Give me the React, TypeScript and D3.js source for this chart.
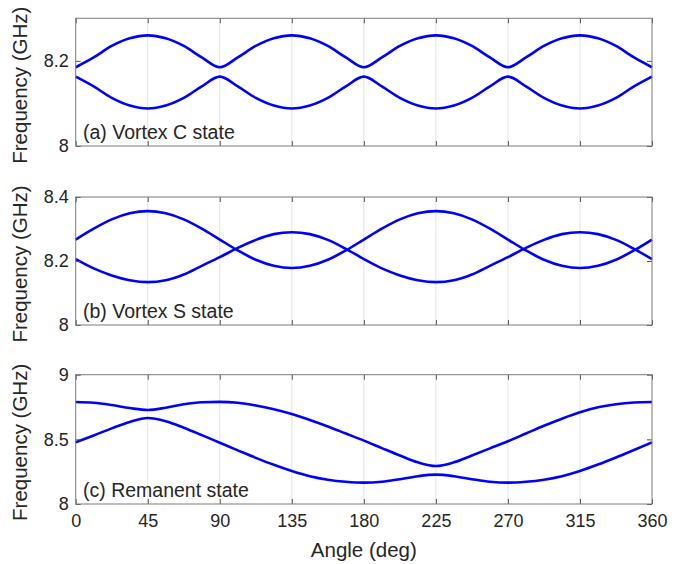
import React, { useRef, useEffect } from "react";
import { select, scaleLinear, line, curveMonotoneX, axisBottom, axisTop, axisLeft, axisRight } from "d3";

// angle samples (deg), every 11.25 deg
const angles = [
  0, 11.25, 22.5, 33.75, 45, 56.25, 67.5, 78.75, 90, 101.25, 112.5, 123.75, 135,
  146.25, 157.5, 168.75, 180, 191.25, 202.5, 213.75, 225, 236.25, 247.5, 258.75,
  270, 281.25, 292.5, 303.75, 315, 326.25, 337.5, 348.75, 360,
];

// (a) vortex C state
const vortexCUpper = [
  8.185, 8.208, 8.235, 8.253, 8.26, 8.253, 8.235, 8.208,
  8.185, 8.208, 8.235, 8.253, 8.26, 8.253, 8.235, 8.208,
  8.185, 8.208, 8.235, 8.253, 8.26, 8.253, 8.235, 8.208,
  8.185, 8.208, 8.235, 8.253, 8.26, 8.253, 8.235, 8.208, 8.185,
];
const vortexCLower = [
  8.163, 8.14, 8.113, 8.095, 8.088, 8.095, 8.113, 8.14,
  8.163, 8.14, 8.113, 8.095, 8.088, 8.095, 8.113, 8.14,
  8.163, 8.14, 8.113, 8.095, 8.088, 8.095, 8.113, 8.14,
  8.163, 8.14, 8.113, 8.095, 8.088, 8.095, 8.113, 8.14, 8.163,
];

// (b) vortex S state
const vortexSA = [
  8.267, 8.301, 8.33, 8.349, 8.356, 8.349, 8.33, 8.301,
  8.267, 8.233, 8.204, 8.185, 8.178, 8.185, 8.204, 8.233,
  8.267, 8.301, 8.33, 8.349, 8.356, 8.349, 8.33, 8.301,
  8.267, 8.233, 8.204, 8.185, 8.178, 8.185, 8.204, 8.233, 8.267,
];
const vortexSB = [
  8.206, 8.177, 8.155, 8.14, 8.134, 8.14, 8.158, 8.185,
  8.212, 8.241, 8.266, 8.284, 8.29, 8.284, 8.266, 8.238,
  8.206, 8.177, 8.155, 8.14, 8.134, 8.14, 8.158, 8.185,
  8.212, 8.241, 8.266, 8.284, 8.29, 8.284, 8.266, 8.238, 8.206,
];

// (c) remanent state
const remanentUpper = [
  8.789, 8.783, 8.765, 8.742, 8.727, 8.745, 8.772, 8.787,
  8.79, 8.783, 8.762, 8.733, 8.696, 8.65, 8.6, 8.545,
  8.49, 8.432, 8.375, 8.322, 8.294, 8.322, 8.375, 8.43,
  8.485, 8.545, 8.605, 8.66, 8.709, 8.748, 8.772, 8.785, 8.789,
];
const remanentLower = [
  8.477, 8.53, 8.585, 8.635, 8.665, 8.64, 8.59, 8.533,
  8.474, 8.415, 8.357, 8.303, 8.255, 8.215, 8.188, 8.172,
  8.165, 8.172, 8.192, 8.215, 8.227, 8.215, 8.192, 8.172,
  8.165, 8.172, 8.188, 8.215, 8.255, 8.305, 8.36, 8.418, 8.477,
];

const xTicks = [0, 45, 90, 135, 180, 225, 270, 315, 360];
const yTicksA = [8, 8.2];
const yTicksB = [8, 8.2, 8.4];
const yTicksC = [8, 8.5, 9];
const panelLabels = ["(a) Vortex C state", "(b) Vortex S state", "(c) Remanent state"];

const FONT = "'Liberation Sans', Arial, Helvetica, sans-serif";
const TEXT = "#262626";

export default function App() {
  const svgRef = useRef(null);

  useEffect(() => {
    const svg = select(svgRef.current);
    svg.selectAll("*").remove();

    const left = 75.7, right = 652;
    const x = scaleLinear().domain([0, 360]).range([left, right]);

    const panels = [
      { top: 18.3, bottom: 146, domain: [8, 8.3], ticks: yTicksA, series: [vortexCUpper, vortexCLower], label: panelLabels[0] },
      { top: 197, bottom: 325, domain: [8, 8.4], ticks: yTicksB, series: [vortexSA, vortexSB], label: panelLabels[1] },
      { top: 374.7, bottom: 504, domain: [8, 9], ticks: yTicksC, series: [remanentUpper, remanentLower], label: panelLabels[2] },
    ];

    panels.forEach((p, i) => {
      const y = scaleLinear().domain(p.domain).range([p.bottom, p.top]);
      const g = svg.append("g");

      // vertical grid
      g.selectAll(".grid")
        .data(xTicks.slice(1, -1))
        .join("line")
        .attr("x1", (d) => x(d)).attr("x2", (d) => x(d))
        .attr("y1", p.top).attr("y2", p.bottom)
        .attr("stroke", "#e3e3e3").attr("stroke-width", 1);

      // curves
      const myLine = line()
        .x((d, k) => x(angles[k]))
        .y((d) => y(d))
        .curve(curveMonotoneX);
      g.selectAll(".curve")
        .data(p.series)
        .join("path")
        .attr("d", (d) => myLine(d))
        .attr("fill", "none")
        .attr("stroke", "#0000ff")
        .attr("stroke-width", 2.6);

      const isLast = i === panels.length - 1;
      const styleAxis = (sel) => {
        sel.select(".domain").remove();
        sel.selectAll(".tick line").attr("stroke", "#555").attr("stroke-width", 1);
        sel.selectAll("text").attr("font-family", FONT).attr("font-size", 18).attr("fill", TEXT);
        sel.attr("font-family", null).attr("font-size", null);
      };

      g.append("g")
        .attr("transform", `translate(0,${p.bottom})`)
        .call(axisBottom(x).tickValues(xTicks).tickSizeInner(-5).tickSizeOuter(0).tickPadding(10)
          .tickFormat((d) => (isLast ? String(d) : "")))
        .call(styleAxis);
      g.append("g")
        .attr("transform", `translate(0,${p.top})`)
        .call(axisTop(x).tickValues(xTicks).tickSizeInner(-5).tickSizeOuter(0).tickFormat(() => ""))
        .call(styleAxis);
      g.append("g")
        .attr("transform", `translate(${left},0)`)
        .call(axisLeft(y).tickValues(p.ticks).tickSizeInner(-5).tickSizeOuter(0).tickPadding(7)
          .tickFormat((d) => String(d)))
        .call(styleAxis);
      g.append("g")
        .attr("transform", `translate(${right},0)`)
        .call(axisRight(y).tickValues(p.ticks).tickSizeInner(-5).tickSizeOuter(0).tickFormat(() => ""))
        .call(styleAxis);

      // box
      g.append("rect")
        .attr("x", left).attr("y", p.top)
        .attr("width", right - left).attr("height", p.bottom - p.top)
        .attr("fill", "none").attr("stroke", "#7a7a7a").attr("stroke-width", 1);

      // panel annotation
      g.append("text")
        .attr("x", 83).attr("y", p.bottom - 7)
        .attr("font-family", FONT).attr("font-size", 19.5).attr("fill", TEXT)
        .text(p.label);

      // y label
      const cy = (p.top + p.bottom) / 2 + 3;
      g.append("text")
        .attr("transform", `translate(27,${cy}) rotate(-90)`)
        .attr("text-anchor", "middle")
        .attr("font-family", FONT).attr("font-size", 20.5).attr("fill", TEXT)
        .text("Frequency (GHz)");
    });

    svg.append("text")
      .attr("x", (left + right) / 2).attr("y", 556.5)
      .attr("text-anchor", "middle")
      .attr("font-family", FONT).attr("font-size", 20.5).attr("fill", TEXT)
      .text("Angle (deg)");
  }, []);

  return (
    <svg
      ref={svgRef}
      width={682}
      height={564}
      style={{ position: "absolute", left: 0, top: 0, background: "#fff" }}
    />
  );
}
